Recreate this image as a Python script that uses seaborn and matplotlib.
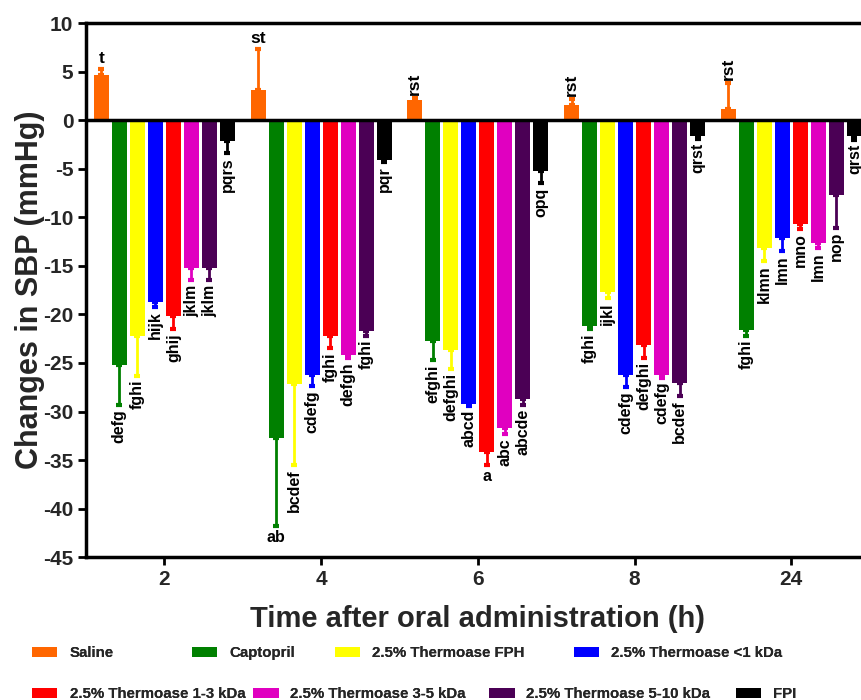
import numpy as np
import pandas as pd
import matplotlib
matplotlib.use("Agg")
import matplotlib.pyplot as plt
from matplotlib.patches import Patch
import seaborn as sns

# ---------------- data ----------------
times = ["2", "4", "6", "8", "24"]
groups = ["Saline", "Captopril", "2.5% Thermoase FPH", "2.5% Thermoase <1 kDa",
          "2.5% Thermoase 1-3 kDa", "2.5% Thermoase 3-5 kDa",
          "2.5% Thermoase 5-10 kDa", "FPI"]
colors = ["#FF6600", "#008000", "#FFFF00", "#0000FF", "#FF0000", "#E000C0",
          "#4B0055", "#000000"]

saline = [4.6, 3.1, 2.1, 1.6, 1.1]
captopril = [-25.2, -32.7, -22.7, -21.2, -21.6]
fph = [-22.2, -27.2, -23.7, -17.7, -13.2]
lt1 = [-18.7, -26.2, -29.2, -26.2, -12.1]
k1_3 = [-20.2, -22.2, -34.2, -23.2, -10.65]
k3_5 = [-15.2, -24.2, -31.7, -26.2, -12.7]
k5_10 = [-15.2, -21.7, -28.7, -27.1, -7.66]
fpi = [-2.2, -4.1, -5.2, -1.65, -1.65]

saline_err = [0.7, 4.2, 0.2, 0.6, 2.75]
captopril_err = [4.1, 9.1, 2.0, 0.3, 0.6]
fph_err = [4.1, 8.3, 1.9, 0.6, 1.3]
lt1_err = [0.5, 1.2, 0.2, 1.3, 1.4]
k1_3_err = [1.3, 1.3, 1.3, 1.3, 0.55]
k3_5_err = [1.3, 0.3, 0.6, 0.3, 0.5]
k5_10_err = [1.3, 0.5, 0.6, 1.3, 3.4]
fpi_err = [1.2, 0.2, 1.3, 0.3, 0.4]

saline_lbl = ["t", "st", "rst", "rst", "rst"]
captopril_lbl = ["defg", "ab", "efghi", "fghi", "fghi"]
fph_lbl = ["fghi", "bcdef", "defghi", "ijkl", "klmn"]
lt1_lbl = ["hijk", "cdefg", "abcd", "cdefg", "lmn"]
k1_3_lbl = ["ghij", "fghi", "a", "defghi", "mno"]
k3_5_lbl = ["jklm", "defgh", "abc", "cdefg", "lmn"]
k5_10_lbl = ["jklm", "fghi", "abcde", "bcdef", "nop"]
fpi_lbl = ["pqrs", "pqr", "opq", "qrst", "qrst"]

values = [saline, captopril, fph, lt1, k1_3, k3_5, k5_10, fpi]
errors = [saline_err, captopril_err, fph_err, lt1_err, k1_3_err, k3_5_err,
          k5_10_err, fpi_err]
letters = [saline_lbl, captopril_lbl, fph_lbl, lt1_lbl, k1_3_lbl, k3_5_lbl,
           k5_10_lbl, fpi_lbl]

rows = []
for g, vals in zip(groups, values):
    for t, v in zip(times, vals):
        rows.append({"Time": t, "Group": g, "SBP": v})
df = pd.DataFrame(rows)

# ---------------- plot ----------------
sns.set_style("ticks")
plt.rcParams["font.family"] = ["Liberation Sans", "DejaVu Sans"]
plt.rcParams["axes.unicode_minus"] = False

fig = plt.figure(figsize=(8.62, 7.0), dpi=100)
ax = fig.add_axes([86 / 862, (700 - 557.2) / 700, (869.75 - 86) / 862, (557.2 - 23) / 700])

sns.barplot(data=df, x="Time", y="SBP", hue="Group", order=times,
            hue_order=groups, palette=colors, saturation=1, width=0.92,
            gap=0.17, errorbar=None, legend=False, ax=ax, linewidth=0,
            zorder=2)

for cont, errs, lbls, col in zip(ax.containers, errors, letters, colors):
    for bar, e, lb in zip(cont, errs, lbls):
        x = bar.get_x() + bar.get_width() / 2
        v = bar.get_height()
        rot = 0 if len(lb) <= 2 else 90
        if v >= 0:
            yerr = [[0], [e]]
            end = v + e
            va, off, fs = "bottom", 2, 12.5
        else:
            yerr = [[e], [0]]
            end = v - e
            va, off, fs = "top", -3, 11.5
        ax.errorbar(x, v, yerr=yerr, fmt="none", ecolor=col, elinewidth=2,
                    capsize=2.5, capthick=3, zorder=3)
        ax.annotate(lb, (x, end), xytext=(0, off), textcoords="offset points",
                    ha="center", va=va, rotation=rot, fontsize=fs,
                    fontweight="bold", color="black", zorder=4)

ax.axhline(0, color="black", lw=2.5, zorder=5)

ax.set_xlim(-0.5, 4.5)
ax.set_ylim(-45, 10)
ax.set_yticks(np.arange(-45, 11, 5))
ax.tick_params(axis="both", direction="out", length=6, width=2, labelsize=15,
               pad=3, color="black")
for lab in ax.get_xticklabels() + ax.get_yticklabels():
    lab.set_fontweight("bold")
for s in ["left", "bottom", "top"]:
    ax.spines[s].set_linewidth(2.5)
    ax.spines[s].set_color("black")
ax.spines["right"].set_visible(False)

ax.set_xlabel("Time after oral administration (h)", fontsize=21,
              fontweight="bold", labelpad=12)
ax.set_ylabel("Changes in SBP (mmHg)", fontsize=22, fontweight="bold",
              labelpad=-1)

# legend: two rows of individually placed entries
leg_x = [32, 192, 335, 574, 32, 253, 489, 736]
leg_y = [653, 653, 653, 653, 694, 694, 694, 694]
for g, c, lx, ly in zip(groups, colors, leg_x, leg_y):
    lg = fig.legend(handles=[Patch(facecolor=c, edgecolor="none")], labels=[g],
                    loc="center left", bbox_to_anchor=(lx / 862, 1 - ly / 700),
                    frameon=False, borderpad=0, borderaxespad=0,
                    handlelength=1.7, handleheight=0.7, handletextpad=0.8,
                    prop={"size": 10.8, "weight": "bold"})
    fig.add_artist(lg)

fig.savefig("out.png", dpi=100)
